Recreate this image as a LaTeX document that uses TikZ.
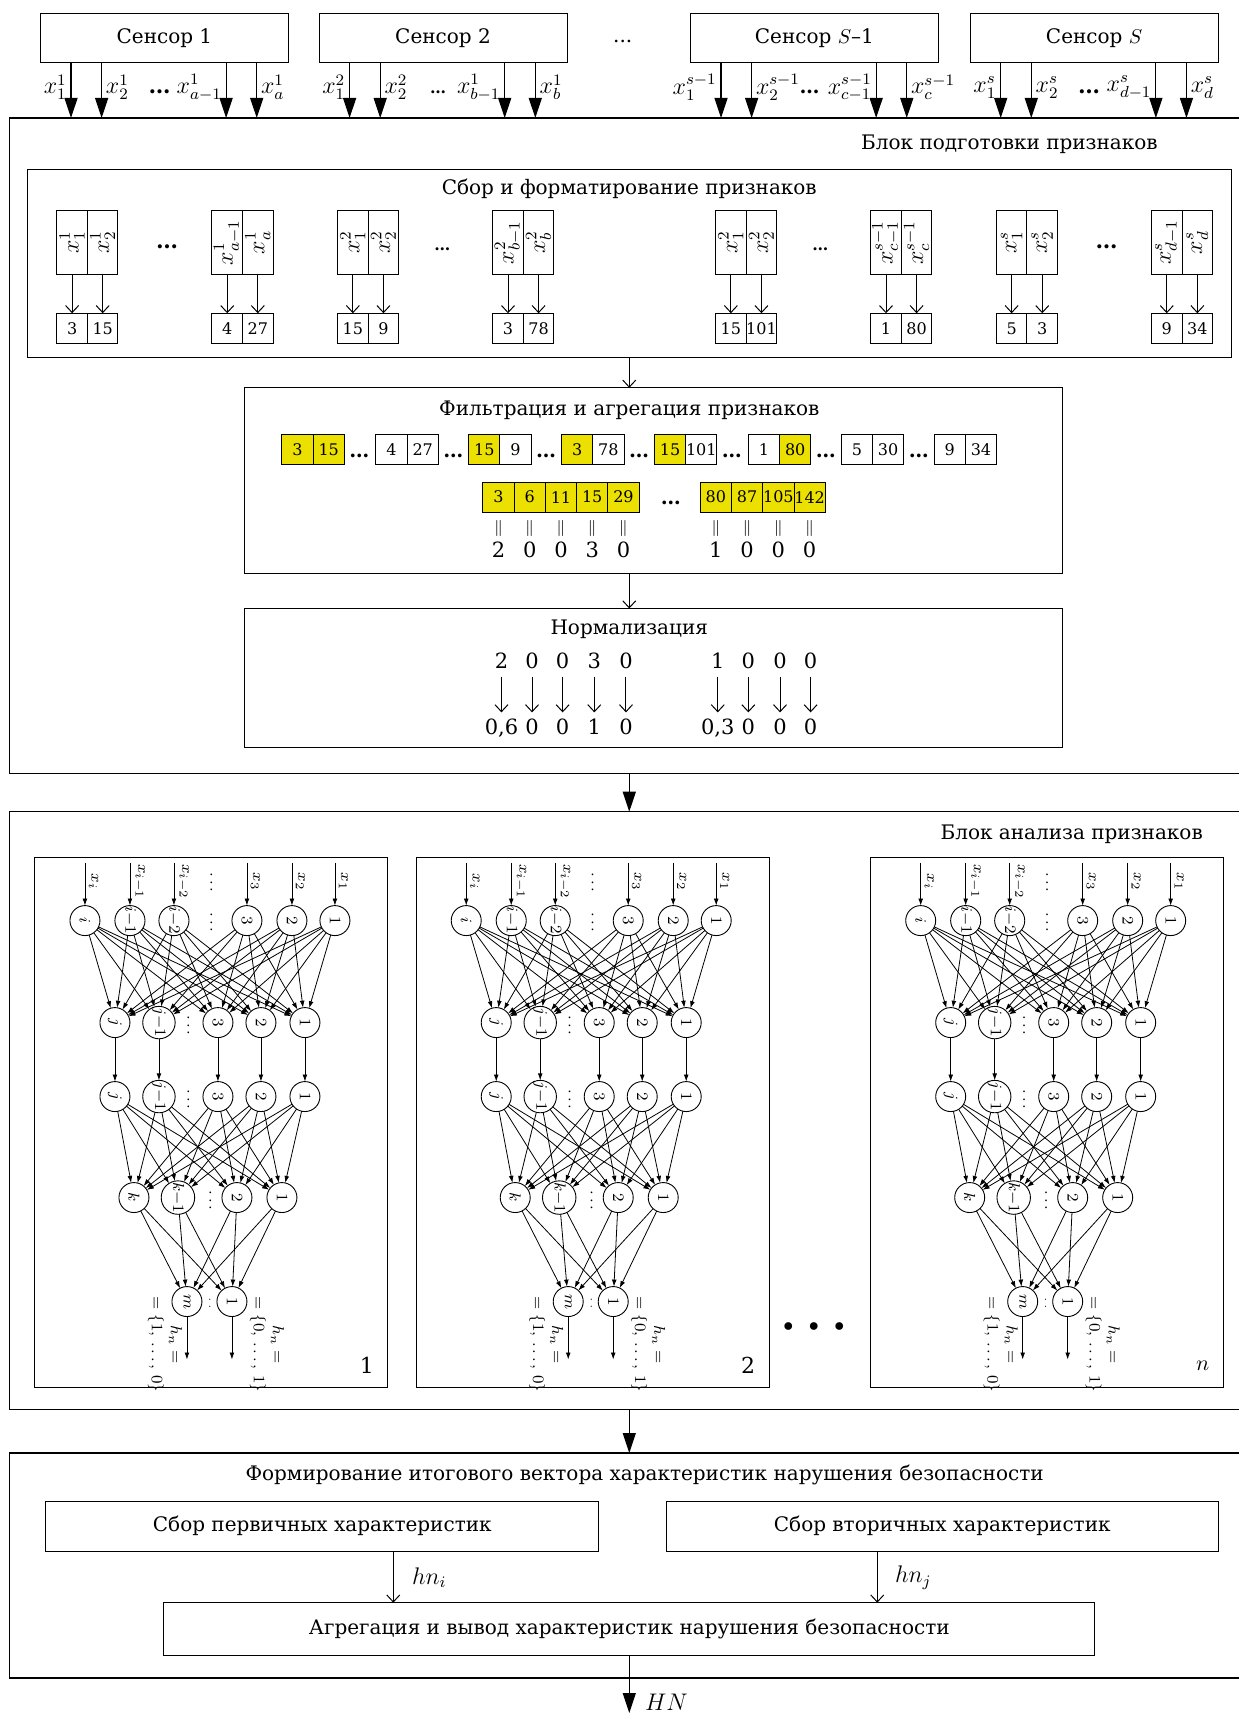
\documentclass[tikz,border=0pt]{standalone}
\usepackage{fontspec}
\setmainfont{DejaVu Serif}
\usetikzlibrary{arrows.meta,calc}
\definecolor{hl}{RGB}{236,224,0}
\def\uu{0.5463pt}
\newcommand\drawnet[3]{%
\begin{scope}[shift={(#2,785)},x=0.5pt,y=-0.5pt]
\node[draw,line width=0.5pt,minimum width=176.5pt,minimum height=265pt,anchor=north west] (#1box) at (0,0) {};
\foreach \x/\lab [count=\i] in {50/i,95/i{-}1,139/i{-}2,212/3,257/2,300/1}{
  \node[neuron] (#1a\i) at (\x,63) {$\lab$};}
\foreach \x/\lab [count=\i] in {50/x_i,95/x_{i-1},139/x_{i-2},212/x_3,257/x_2,300/x_1}{
  \coordinate (#1in\i) at (\x,5);
  \draw[nnarr] (#1in\i) -- (#1a\i);
  \node[nnlbl,rotate=-90,anchor=south] (#1il\i) at (\x+4,24) {$\lab$};}
\foreach \x/\lab [count=\i] in {80/j,124/j{-}1,183/3,226/2,270/1}{
  \node[neuron] (#1b\i) at (\x,165) {$\lab$};
  \node[neuron] (#1c\i) at (\x,239) {$\lab$};
  \draw[nnarr] (#1b\i) -- (#1c\i);}
\foreach \x/\lab [count=\i] in {99/k,143/k{-}1,202/2,247/1}{
  \node[neuron] (#1d\i) at (\x,340) {$\lab$};}
\node[neuron] (#1e1) at (152,444) {$m$};
\node[neuron] (#1e2) at (197,444) {$1$};
\foreach \sn in {1,...,6}{\foreach \tn in {1,...,5}{\draw[nnarr] (#1a\sn) -- (#1b\tn);}}
\foreach \sn in {1,...,5}{\foreach \tn in {1,...,4}{\draw[nnarr] (#1c\sn) -- (#1d\tn);}}
\foreach \sn in {1,...,4}{\foreach \tn in {1,2}{\draw[nnarr] (#1d\sn) -- (#1e\tn);}}
\coordinate (#1o1) at (152,502);
\coordinate (#1o2) at (197,502);
\draw[nnarr] (#1e1) -- (#1o1);
\draw[nnarr] (#1e2) -- (#1o2);
\node[vdots] (#1v1) at (176,25) {$\cdots$};
\node[vdots] (#1v2) at (176,65) {$\cdots$};
\node[vdots] (#1v3) at (153,168) {$\cdots$};
\node[vdots] (#1v4) at (153,242) {$\cdots$};
\node[vdots] (#1v5) at (175,343) {$\cdots$};
\node[vdots,font=\fontsize{5}{6}\selectfont] (#1v6) at (175,446) {$\cdot\,\cdot$};
\node[outl] (#1h1) at (130,487) {$h_n=$\\$=\{1,\,\ldots,\,0\}$};
\node[outl] (#1h2) at (232,487) {$h_n=$\\$=\{0,\,\ldots,\,1\}$};
\node[font=\fontsize{11}{13}\selectfont] (#1num) at (332,508) {#3};
\end{scope}}
\begin{document}
\begin{tikzpicture}[x=0.5463pt,y=-0.5463pt,
  every node/.style={inner sep=0pt,outer sep=0pt},
  txt/.style={font=\fontsize{10}{12}\selectfont},
  rbox/.style args={#1/#2}{draw,line width=0.5pt,minimum width=#1*\uu,minimum height=#2*\uu},
  blk/.style args={#1/#2}{minimum width=#1*\uu,minimum height=#2*\uu},
  blkline/.style={line width=0.65pt},
  cell/.style={draw,line width=0.5pt,minimum width=28.6*\uu,minimum height=27.5*\uu,font=\fontsize{8}{9}\selectfont},
  lbl/.style={font=\fontsize{11.5}{14}\selectfont},
  clbl/.style={font=\fontsize{11.5}{13}\selectfont},
  numf/.style={font=\fontsize{10.5}{12}\selectfont,text height=7.7pt,text depth=0pt},
  bigarr/.style={line width=0.6pt,-{Triangle[length=10pt,width=6.5pt]}},
  openarr/.style={line width=0.5pt,-{Straight Barb[length=3.5pt,width=6.5pt]}},
  neuron/.style={circle,draw,line width=0.45pt,minimum size=15pt,inner sep=0pt,rotate=-90,font=\fontsize{8}{9}\selectfont},
  nnarr/.style={line width=0.4pt,-{Latex[length=3.5pt,width=2.4pt]}},
  nnlbl/.style={font=\fontsize{8.5}{10}\selectfont},
  vdots/.style={rotate=-90,font=\fontsize{8}{9}\selectfont},
  outl/.style={rotate=-90,align=center,font=\fontsize{8}{9.5}\selectfont}]
\useasboundingbox (0,0) rectangle (1134,1568);
\coordinate (ax) at (576,0);
% sensors
\node[rbox={227/45},txt] (s1) at (150.5,34.5) {Сенсор 1};
\node[rbox={227/45},txt] (s2) at (405.5,34.5) {Сенсор 2};
\node[txt] (sdots) at (570,38) {...};
\node[rbox={227/45},txt] (s3) at (745.5,34.5) {Сенсор $S$–1};
\node[rbox={227/45},txt] (s4) at (1001.5,34.5) {Сенсор $S$};
% block 1
\node[blk={1125/600}] (blk1) at (571.5,408) {};
\draw[blkline] (blk1.north east) -- (blk1.north west) -- (blk1.south west) -- (blk1.south east);
\node[txt] (blk1t) at (924,132) {Блок подготовки признаков};
\foreach \s/\L/\sa/\p/\sb/\dz [count=\k] in {s1/37/1/a/1/11, s2/292/2/b/1/8, s3/632/{s-1}/c/{s-1}/10, s4/888/s/d/s/11}{
  \foreach \o in {28,56,170,198}{\draw[bigarr] ([xshift=\o*\uu]\s.south west) -- ++(0,51);}
  \node[lbl,anchor=east] (\s-l1) at (\L+24,80) {$x_1^{\sa}$};
  \node[lbl,anchor=west] (\s-l2) at (\L+60,80) {$x_2^{\sa}$};
  \node[font=\fontsize{\dz}{12}\selectfont\bfseries] (\s-ld) at (\L+109,84) {…};
  \node[lbl,anchor=east] (\s-l3) at (\L+166,80) {$x_{\p-1}^{\sb}$};
  \node[lbl,anchor=west] (\s-l4) at (\L+202,80) {$x_{\p}^{\sb}$};
}
% collect block
\node[rbox={1102/172}] (col) at (576,241) {};
\node[txt] (colt) at (576,173) {Сбор и форматирование признаков};
\foreach \L/\ta/\tb/\va/\vb [count=\i] in {52/{x_1^1}/{x_2^1}/3/15, 194/{x_{a-1}^1}/{x_a^1}/4/27, 309/{x_1^2}/{x_2^2}/15/9, 451/{x_{b-1}^2}/{x_b^2}/3/78, 655/{x_1^2}/{x_2^2}/15/101, 797/{x_{c-1}^{s-1}}/{x_c^{s-1}}/1/80, 912/{x_1^s}/{x_2^s}/5/3, 1054/{x_{d-1}^s}/{x_d^s}/9/34}{
  \node[rbox={58/28},rotate=90,clbl] (ca\i) at (\L+14,222) {$\ta$};
  \node[rbox={58/28},rotate=90,clbl] (cb\i) at (\L+42,222) {$\tb$};
  \node[cell,minimum width=28*\uu] (va\i) at (\L+14,300.5) {\va};
  \node[cell,minimum width=28*\uu] (vb\i) at (\L+42,300.5) {\vb};
  \draw[openarr] (ca\i) -- (va\i);
  \draw[openarr] (cb\i) -- (vb\i);
}
\node[font=\fontsize{11}{12}\selectfont\bfseries] (cd1) at (153,226) {…};
\node[font=\fontsize{8}{12}\selectfont\bfseries] (cd2) at (405,228) {…};
\node[font=\fontsize{8}{12}\selectfont\bfseries] (cd3) at (751,228) {…};
\node[font=\fontsize{11}{12}\selectfont\bfseries] (cd4) at (1013,226) {…};
% filter block
\node[rbox={749/170}] (fil) at (598.5,440) {};
\node[txt] (filt) at (576,376) {Фильтрация и агрегация признаков};
\draw[openarr] (ax |- col.south) -- (ax |- fil.north);
\foreach \x/\v/\c [count=\i] in {258/3/hl,286.6/15/hl,344/4/white,372.6/27/white,429/15/hl,457.6/9/white,514/3/hl,542.6/78/white,599/15/hl,627.6/101/white,685/1/white,713.6/80/hl,770/5/white,798.6/30/white,855/9/white,883.6/34/white}{
  \node[cell,fill=\c] (fa\i) at (\x+14.3,411.5) {\v};}
\foreach \x [count=\i] in {329,415,500,585,670,756,841}{
  \node[font=\fontsize{10}{12}\selectfont\bfseries] (fd\i) at (\x,417) {…};}
\foreach \x/\v/\r [count=\i] in {442/3/2,470.6/6/0,499.2/11/0,527.8/15/3,556.4/29/0,641/80/1,669.6/87/0,698.2/105/0,726.8/142/0}{
  \node[cell,fill=hl] (fb\i) at (\x+14.3,455) {\v};
  \node[font=\fontsize{8.5}{10}\selectfont,text height=5.5pt,text depth=0pt] (fe\i) at (\x+14.3,482) {$\|$};
  \node[numf] (fr\i) at (\x+14.3,503) {\r};}
\node[font=\fontsize{10}{12}\selectfont\bfseries] (fbd) at (614,460) {…};
% normalization
\node[rbox={749/127}] (nrm) at (598.5,620.5) {};
\node[txt] (nrmt) at (576,576) {Нормализация};
\draw[openarr] (ax |- fil.south) -- (ax |- nrm.north);
\foreach \x/\a/\bb [count=\i] in {459/2/{0,6},487/0/0,515/0/0,544/3/1,573/0/0,657/1/{0,3},685/0/0,714/0/0,742/0/0}{
  \node[numf] (na\i) at (\x,605) {\a};
  \node[numf] (nb\i) at (\x,665) {\bb};
  \draw[openarr,shorten <=4pt,shorten >=3.2pt] (na\i) -- (nb\i);}
% block 2
\draw[bigarr] (ax |- blk1.south) -- (ax |- 0,743);
\node[blk={1125/547}] (blk2) at (571.5,1016.5) {};
\draw[blkline] (blk2.north east) -- (blk2.north west) -- (blk2.south west) -- (blk2.south east);
\node[txt] (blk2t) at (981,764) {Блок анализа признаков};
\drawnet{p}{32}{1}
\drawnet{q}{381}{2}
\drawnet{r}{797}{$n$}
\node[font=\fontsize{10}{12}\selectfont] (netdots) at (745,1215) {$\bullet\;\;\bullet\;\;\bullet$};
% block 3
\draw[bigarr] (ax |- blk2.south) -- (ax |- 0,1330);
\node[blk={1125/206}] (blk3) at (571.5,1433) {};
\draw[blkline] (blk3.north east) -- (blk3.north west) -- (blk3.south west) -- (blk3.south east);
\node[txt] (blk3t) at (590,1350) {Формирование итогового вектора характеристик нарушения безопасности};
\node[rbox={506/46},txt] (prim) at (295,1397) {Сбор первичных характеристик};
\node[rbox={505/46},txt] (sec) at (862.5,1397) {Сбор вторичных характеристик};
\node[rbox={852/48},txt] (aggr) at (576,1491) {Агрегация и вывод характеристик нарушения безопасности};
\coordinate (pa) at (360,0);
\coordinate (pb) at (803,0);
\draw[openarr] (pa |- prim.south) -- (pa |- aggr.north);
\draw[openarr] (pb |- sec.south) -- (pb |- aggr.north);
\node[lbl] (hni) at (393,1444) {$hn_i$};
\node[lbl] (hnj) at (836,1444) {$hn_j$};
\coordinate (hnend) at (576,1568);
\draw[bigarr] (aggr.south) -- (hnend);
\node[lbl] (hn) at (610,1558) {$HN$};
\end{tikzpicture}
\end{document}
